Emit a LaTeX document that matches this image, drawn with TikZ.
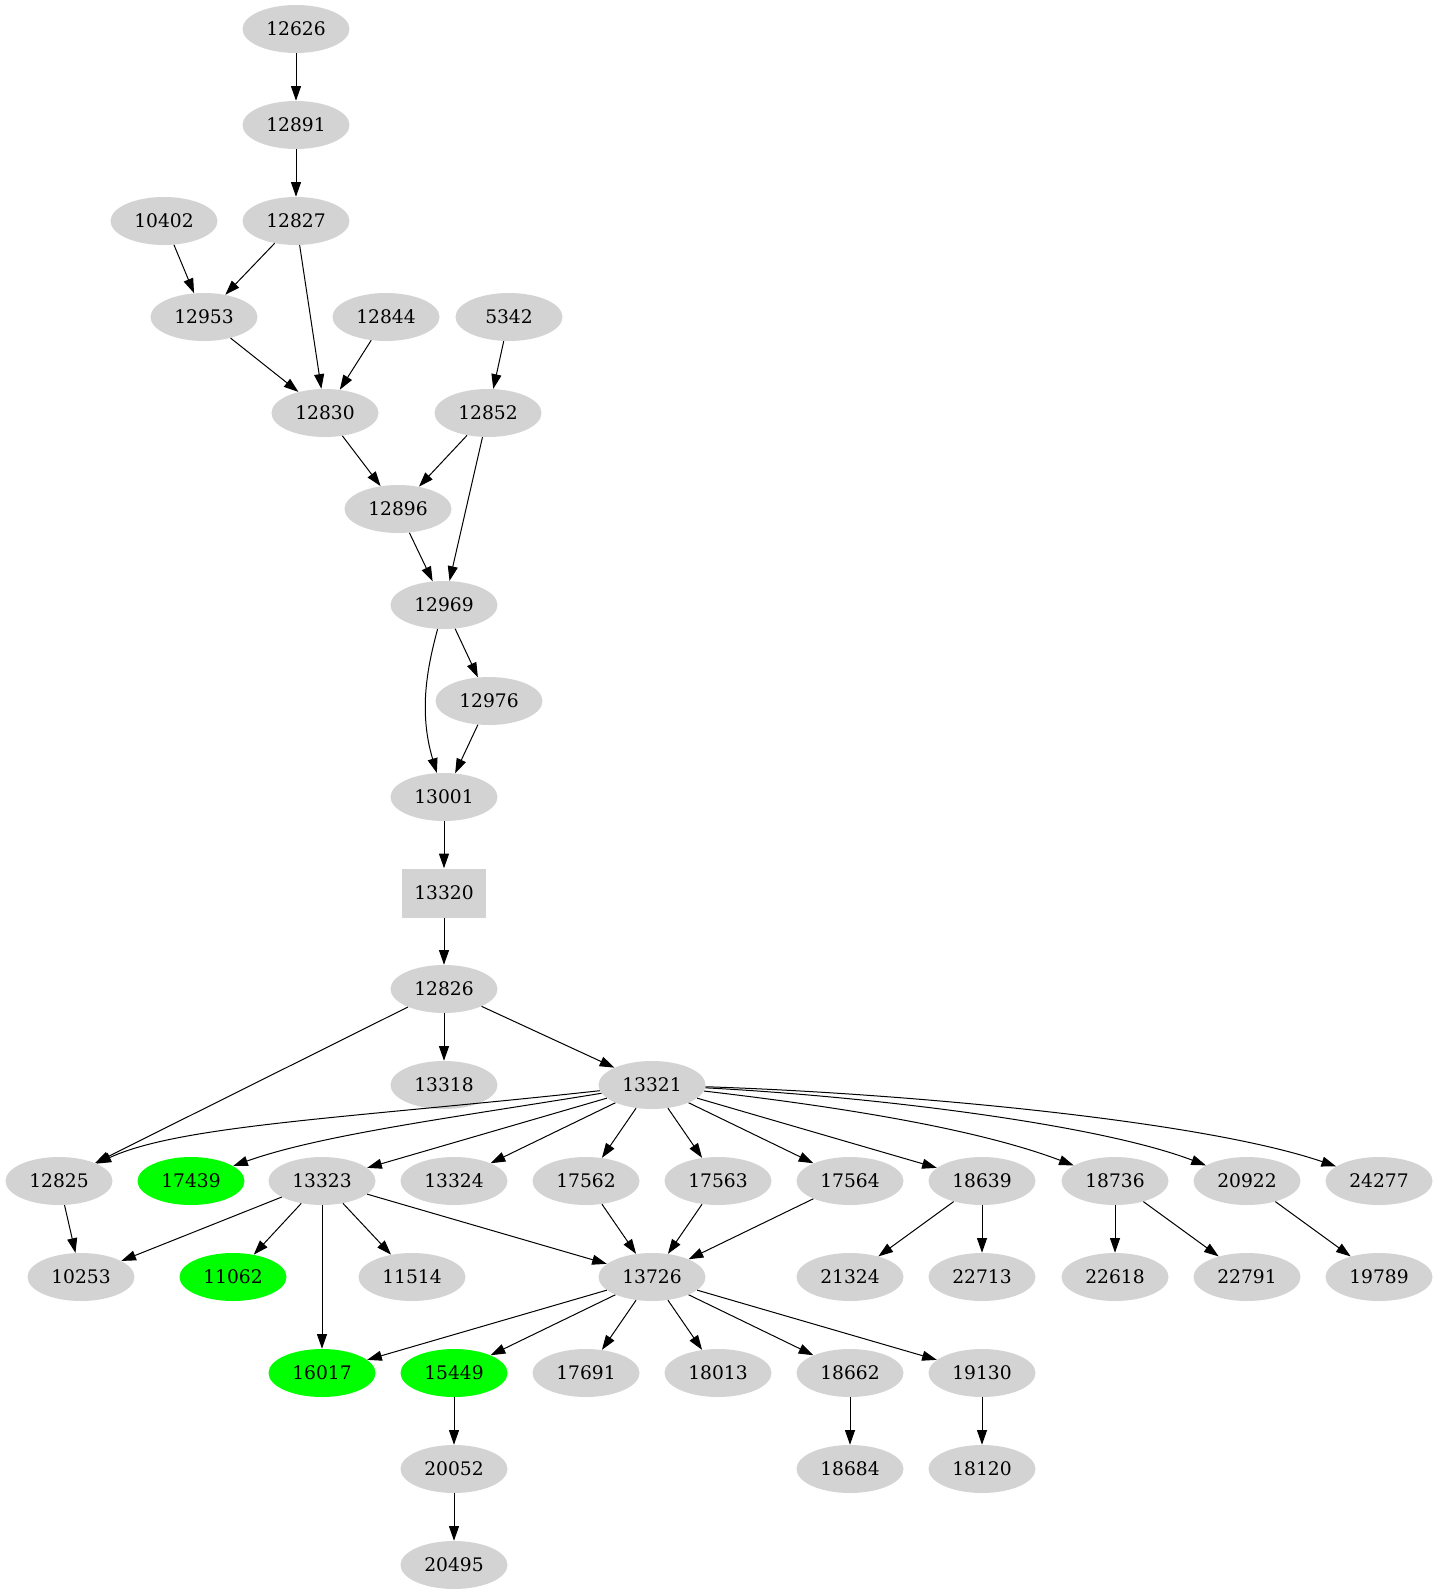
\documentclass[tikz,border=0pt]{standalone}
\usepackage{fontspec}
\newfontfamily\nodefont{DejaVu Serif}
\usetikzlibrary{shapes.geometric,arrows.meta}
\definecolor{lgray}{HTML}{D3D3D3}
\definecolor{lgreen}{HTML}{00FF00}
\tikzset{
  gn/.style={ellipse, fill=lgray, minimum width=80.25pt, minimum height=36pt, inner sep=0pt, font=\nodefont\fontsize{14pt}{16pt}\selectfont},
  gg/.style={gn, fill=lgreen},
  bx/.style={rectangle, fill=lgray, minimum width=63pt, minimum height=36.75pt, inner sep=0pt, font=\nodefont\fontsize{14pt}{16pt}\selectfont},
  edge/.style={draw=black, line width=0.75pt, -{Triangle[length=11pt,width=7.5pt]}}
}
\begin{document}
\begin{tikzpicture}[x=0.75pt,y=-0.75pt]
\fill[white] (0,0) rectangle (1438,1595);
\useasboundingbox (0,0) rectangle (1438,1595);
% rows
\node[gn] (n12626) at (296,29) {12626};
\node[gn] (n12891) at (296,125) {12891};
\node[gn] (n10402) at (164,221) {10402};
\node[gn] (n12827) at (296,221) {12827};
\node[gn] (n12953) at (204,317) {12953};
\node[gn] (n12844) at (386,317) {12844};
\node[gn] (n5342) at (509,317) {5342};
\node[gn] (n12830) at (325,413) {12830};
\node[gn] (n12852) at (488,413) {12852};
\node[gn] (n12896) at (398,509) {12896};
\node[gn] (n12969) at (444,605) {12969};
\node[gn] (n12976) at (489,701) {12976};
\node[gn] (n13001) at (444,797) {13001};
\node[bx] (n13320) at (444,893) {13320};
\node[gn] (n12826) at (444,989) {12826};
\node[gn] (n13318) at (444,1085) {13318};
\node[gn] (n13321) at (652,1085) {13321};
% row 12
\node[gn] (n12825) at (59,1181) {12825};
\node[gg] (n17439) at (191,1181) {17439};
\node[gn] (n13323) at (322,1181) {13323};
\node[gn] (n13324) at (454,1181) {13324};
\node[gn] (n17562) at (586,1181) {17562};
\node[gn] (n17563) at (718,1181) {17563};
\node[gn] (n17564) at (850,1181) {17564};
\node[gn] (n18639) at (982,1181) {18639};
\node[gn] (n18736) at (1115,1181) {18736};
\node[gn] (n20922) at (1247,1181) {20922};
\node[gn] (n24277) at (1379,1181) {24277};
% row 13
\node[gn] (n10253) at (81,1277) {10253};
\node[gg] (n11062) at (233,1277) {11062};
\node[gn] (n11514) at (412,1277) {11514};
\node[gn] (n13726) at (652,1277) {13726};
\node[gn] (n21324) at (850,1277) {21324};
\node[gn] (n22713) at (982,1277) {22713};
\node[gn] (n22618) at (1115,1277) {22618};
\node[gn] (n22791) at (1247,1277) {22791};
\node[gn] (n19789) at (1379,1277) {19789};
% row 14
\node[gg] (n16017) at (322,1373) {16017};
\node[gg] (n15449) at (454,1373) {15449};
\node[gn] (n17691) at (586,1373) {17691};
\node[gn] (n18013) at (718,1373) {18013};
\node[gn] (n18662) at (850,1373) {18662};
\node[gn] (n19130) at (982,1373) {19130};
% row 15
\node[gn] (n20052) at (454,1469) {20052};
\node[gn] (n18684) at (850,1469) {18684};
\node[gn] (n18120) at (982,1469) {18120};
% row 16
\node[gn] (n20495) at (454,1565) {20495};
% edges
\draw[edge] (n12626) -- (n12891);
\draw[edge] (n12891) -- (n12827);
\draw[edge] (n10402) -- (n12953);
\draw[edge] (n12827) -- (n12953);
\draw[edge] (n12827) -- (n12830);
\draw[edge] (n12953) -- (n12830);
\draw[edge] (n12844) -- (n12830);
\draw[edge] (n5342) -- (n12852);
\draw[edge] (n12830) -- (n12896);
\draw[edge] (n12852) -- (n12896);
\draw[edge] (n12852) -- (n12969);
\draw[edge] (n12896) -- (n12969);
\draw[edge] (n12969) -- (n12976);
\draw[edge] (n12969) .. controls (428,665) and (418,710) .. (n13001);
\draw[edge] (n12976) -- (n13001);
\draw[edge] (n13001) -- (n13320);
\draw[edge] (n13320) -- (n12826);
\draw[edge] (n12826) -- (n12825);
\draw[edge] (n12826) -- (n13318);
\draw[edge] (n12826) -- (n13321);
\draw[edge] (n13321) .. controls (350,1118) and (180,1125) .. (n12825);
\draw[edge] (n13321) .. controls (450,1118) and (320,1135) .. (n17439);
\draw[edge] (n13321) -- (n13323);
\draw[edge] (n13321) -- (n13324);
\draw[edge] (n13321) -- (n17562);
\draw[edge] (n13321) -- (n17563);
\draw[edge] (n13321) -- (n17564);
\draw[edge] (n13321) -- (n18639);
\draw[edge] (n13321) .. controls (850,1108) and (980,1130) .. (n18736);
\draw[edge] (n13321) .. controls (880,1097) and (1100,1125) .. (n20922);
\draw[edge] (n13321) .. controls (900,1093) and (1200,1120) .. (n24277);
\draw[edge] (n12825) -- (n10253);
\draw[edge] (n13323) -- (n10253);
\draw[edge] (n13323) -- (n11062);
\draw[edge] (n13323) -- (n16017);
\draw[edge] (n13323) -- (n11514);
\draw[edge] (n13323) -- (n13726);
\draw[edge] (n17562) -- (n13726);
\draw[edge] (n17563) -- (n13726);
\draw[edge] (n17564) -- (n13726);
\draw[edge] (n18639) -- (n21324);
\draw[edge] (n18639) -- (n22713);
\draw[edge] (n18736) -- (n22618);
\draw[edge] (n18736) -- (n22791);
\draw[edge] (n20922) -- (n19789);
\draw[edge] (n13726) -- (n16017);
\draw[edge] (n13726) -- (n15449);
\draw[edge] (n13726) -- (n17691);
\draw[edge] (n13726) -- (n18013);
\draw[edge] (n13726) -- (n18662);
\draw[edge] (n13726) -- (n19130);
\draw[edge] (n15449) -- (n20052);
\draw[edge] (n20052) -- (n20495);
\draw[edge] (n18662) -- (n18684);
\draw[edge] (n19130) -- (n18120);
\end{tikzpicture}
\end{document}
